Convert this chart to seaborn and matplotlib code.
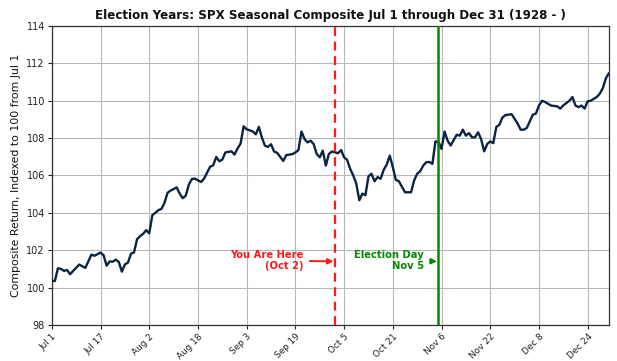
import numpy as np
import pandas as pd
import matplotlib
matplotlib.use("Agg")
import matplotlib.pyplot as plt
import matplotlib.dates as mdates
import seaborn as sns

# ---- data -------------------------------------------------------------
year = 2024
start_date = "2024-07-01"
end_date = "2024-12-31"
days_since_jul1 = [
    0, 1, 2, 3, 4, 5, 6, 7, 9, 11, 13, 14, 16, 17, 18, 19, 20, 21, 22, 23,
    24, 25, 26, 27, 28, 29, 30, 31, 32, 33, 34, 35, 36, 37, 38, 39, 41, 42,
    43, 44, 45, 46, 47, 49, 50, 51, 52, 53, 54, 55, 56, 57, 59, 60, 61, 62,
    63, 64, 66, 67, 68, 69, 70, 71, 72, 73, 74, 76, 77, 79, 80, 81, 82, 83,
    84, 85, 86, 87, 88, 89, 90, 91, 92, 94, 95, 96, 97, 98, 99, 100, 101,
    102, 103, 104, 105, 106, 107, 108, 109, 110, 111, 112, 113, 114, 116,
    118, 119, 120, 121, 122, 123, 124, 125, 126, 127, 128, 129, 130, 131,
    132, 133, 134, 135, 136, 137, 138, 139, 140, 141, 142, 143, 144, 145,
    146, 147, 148, 149, 151, 153, 154, 155, 156, 157, 158, 159, 160, 161,
    162, 164, 166, 167, 168, 170, 171, 172, 173, 174, 175, 176, 177, 179,
    180, 181, 182, 183,
]
composite = [
    100.35, 100.35, 101.03, 101.00, 100.89, 100.94, 100.71, 100.89, 101.23,
    101.05, 101.76, 101.70, 101.87, 101.73, 101.17, 101.40, 101.38, 101.49,
    101.37, 100.85, 101.24, 101.33, 101.81, 101.88, 102.59, 102.75, 102.88,
    103.07, 102.90, 103.87, 104.00, 104.14, 104.21, 104.53, 105.07, 105.19,
    105.36, 105.03, 104.78, 104.92, 105.51, 105.81, 105.83, 105.65, 105.83,
    106.15, 106.47, 106.54, 106.99, 106.76, 106.85, 107.23, 107.29, 107.12,
    107.44, 107.71, 108.63, 108.47, 108.36, 108.20, 108.60, 108.03, 107.59,
    107.53, 107.67, 107.28, 107.21, 106.78, 107.09, 107.14, 107.23, 107.36,
    108.35, 107.95, 107.77, 107.86, 107.68, 107.15, 106.97, 107.33, 106.53,
    107.15, 107.28, 107.19, 107.36, 106.97, 106.83, 106.35, 106.00, 105.56,
    104.67, 105.03, 104.94, 105.95, 106.09, 105.69, 105.91, 105.82, 106.30,
    106.58, 107.06, 106.44, 105.76, 105.69, 105.10, 105.10, 105.73, 106.09,
    106.23, 106.53, 106.71, 106.72, 106.62, 107.82, 107.80, 107.42, 108.35,
    107.86, 107.60, 107.90, 108.18, 108.13, 108.45, 108.13, 108.27, 108.04,
    108.04, 108.31, 107.95, 107.29, 107.68, 107.82, 107.73, 108.60, 108.71,
    109.10, 109.23, 109.28, 108.78, 108.45, 108.45, 108.54, 108.90, 109.26,
    109.31, 109.74, 110.00, 109.93, 109.74, 109.70, 109.58, 109.75, 110.00,
    110.20, 109.74, 109.66, 109.74, 109.58, 109.97, 110.00, 110.20, 110.38,
    110.68, 111.21, 111.48,
]
tick_labels = ["Jul 1", "Jul 17", "Aug 2", "Aug 18", "Sep 3", "Sep 19",
               "Oct 5", "Oct 21", "Nov 6", "Nov 22", "Dec 8", "Dec 24"]
y_ticks = [98, 100, 102, 104, 106, 108, 110, 112, 114]
today_date = "2024-10-02"
election_date = "2024-11-05"
today_text = "You Are Here\n(Oct 2)"
election_text = "Election Day\nNov 5"
title = "Election Years: SPX Seasonal Composite Jul 1 through Dec 31 (1928 - )"
ylabel = "Composite Return, Indexed to 100 from Jul 1"

# ---- build ------------------------------------------------------------
dates = pd.Timestamp(start_date) + pd.to_timedelta(days_since_jul1, unit="D")
df = pd.DataFrame({"date": dates, "value": composite})
tick_dates = pd.to_datetime([f"{lbl} {year}" for lbl in tick_labels], format="%b %d %Y")

sns.set_theme(style="whitegrid")
plt.rcParams["font.family"] = ["DejaVu Sans"]

fig = plt.figure(figsize=(6.17, 3.61), dpi=100)
ax = fig.add_axes([0.084, 0.10, 0.903, 0.828])
ax.set_facecolor("white")

sns.lineplot(data=df, x="date", y="value", ax=ax, color="#0c2442", linewidth=1.7, zorder=3)

t_today = pd.Timestamp(today_date)
t_elec = pd.Timestamp(election_date)
ax.axvline(t_today, color="#ff1a1a", linestyle=(0, (4, 2.5)), linewidth=1.6, zorder=4)
ax.axvline(t_elec, color="#008a00", linewidth=1.8, zorder=4)

ax.annotate(today_text, xy=(t_today - pd.Timedelta(hours=12), 101.4),
            xytext=(t_today - pd.Timedelta(days=10, hours=6), 101.45),
            ha="right", va="center", color="#ff1a1a", fontsize=7.2, fontweight="bold",
            arrowprops=dict(arrowstyle="-|>", color="#ff1a1a", lw=1.4,
                            mutation_scale=8, shrinkA=2, shrinkB=0), zorder=5)
ax.annotate(election_text, xy=(t_elec - pd.Timedelta(hours=12), 101.4),
            xytext=(t_elec - pd.Timedelta(days=4, hours=18), 101.45),
            ha="right", va="center", color="#008a00", fontsize=7.2, fontweight="bold",
            arrowprops=dict(arrowstyle="-|>", color="#008a00", lw=1.4,
                            mutation_scale=8, shrinkA=2, shrinkB=0), zorder=5)

ax.set_xlim(pd.Timestamp(start_date), pd.Timestamp(end_date))
ax.set_ylim(y_ticks[0], y_ticks[-1])
ax.set_yticks(y_ticks)
ax.set_xticks(tick_dates)
ax.set_xticklabels(tick_labels, rotation=45, ha="right", rotation_mode="anchor")
ax.tick_params(axis="y", labelsize=7, length=3, width=0.8, colors="#222222", left=True, pad=2)
ax.tick_params(axis="x", labelsize=6.4, length=3, width=0.8, colors="#222222", bottom=True, pad=2)

ax.grid(True, color="#b8b8b8", linewidth=0.8)
for s in ax.spines.values():
    s.set_color("#333333")
    s.set_linewidth(0.9)

ax.set_xlabel("")
ax.set_ylabel(ylabel, fontsize=7.8, color="#111111", labelpad=4)
ax.set_title(title, fontsize=8.6, fontweight="bold", color="#111111", pad=5)

fig.savefig("out.png", dpi=100, facecolor="white")
